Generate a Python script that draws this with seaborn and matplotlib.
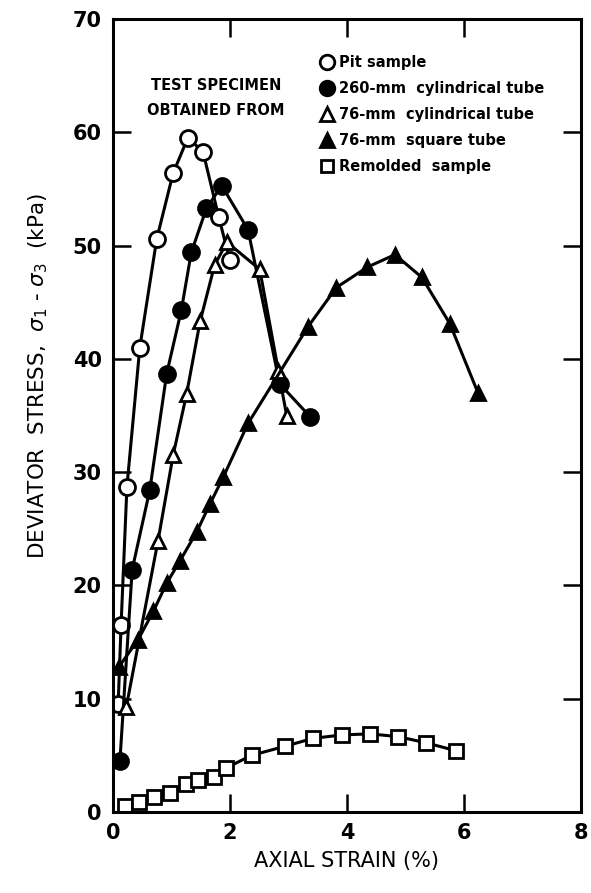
import seaborn as sns
import matplotlib.pyplot as plt
from matplotlib.lines import Line2D
import pandas as pd

# 읽어낸 값 (axial strain %, deviator stress kPa)
pit_x = [0.09, 0.14, 0.24, 0.46, 0.75, 1.03, 1.28, 1.54, 1.81, 2.0]
pit_y = [9.5, 16.5, 28.7, 41.0, 50.6, 56.4, 59.5, 58.3, 52.5, 48.7]

cyl260_x = [0.12, 0.33, 0.63, 0.92, 1.17, 1.34, 1.60, 1.86, 2.31, 2.85, 3.37]
cyl260_y = [4.5, 21.4, 28.4, 38.7, 44.3, 49.4, 53.3, 55.3, 51.4, 37.8, 34.9]

cyl76_x = [0.23, 0.77, 1.03, 1.26, 1.49, 1.74, 1.95, 2.51, 2.83, 2.97]
cyl76_y = [9.3, 23.9, 31.5, 36.9, 43.3, 48.3, 50.3, 47.9, 38.9, 35.0]

sq76_x = [0.10, 0.43, 0.69, 0.92, 1.15, 1.43, 1.66, 1.89, 2.31, 3.33,
          3.82, 4.35, 4.82, 5.28, 5.76, 6.24]
sq76_y = [12.8, 15.2, 17.7, 20.2, 22.2, 24.7, 27.2, 29.6, 34.3, 42.8,
          46.3, 48.1, 49.2, 47.2, 43.1, 37.0]

remold_x = [0.20, 0.45, 0.70, 0.97, 1.25, 1.46, 1.73, 1.94, 2.37, 2.94,
            3.42, 3.91, 4.39, 4.88, 5.36, 5.87]
remold_y = [0.5, 0.9, 1.3, 1.65, 2.5, 2.8, 3.1, 3.9, 5.0, 5.8,
            6.5, 6.8, 6.9, 6.65, 6.1, 5.4]

labels = ['Pit sample', '260-mm  cylindrical tube', '76-mm  cylindrical tube',
          '76-mm  square tube', 'Remolded  sample']

sns.set_style('ticks')
plt.rcParams['font.family'] = ['DejaVu Sans']
plt.rcParams['text.color'] = 'black'
plt.rcParams['axes.labelcolor'] = 'black'
plt.rcParams['xtick.color'] = 'black'
plt.rcParams['ytick.color'] = 'black'
plt.rcParams['axes.edgecolor'] = 'black'

fig = plt.figure(figsize=(5.91, 8.93), dpi=100)
ax = fig.add_axes([0.191, 0.0907, 0.792, 0.888])

series = [
    (pit_x, pit_y, 'o', 'white', 11.5),
    (cyl260_x, cyl260_y, 'o', 'black', 11.5),
    (cyl76_x, cyl76_y, '^', 'white', 10.5),
    (sq76_x, sq76_y, '^', 'black', 10.5),
    (remold_x, remold_y, 's', 'white', 9.5),
]

handles = []
for (xs, ys, mk, fc, ms), lab in zip(series, labels):
    df = pd.DataFrame({'x': xs, 'y': ys})
    sns.lineplot(data=df, x='x', y='y', ax=ax, sort=False, estimator=None,
                 color='black', linewidth=2.2, marker=mk, markersize=ms,
                 markerfacecolor=fc, markeredgecolor='black',
                 markeredgewidth=2)
    handles.append(Line2D([], [], linestyle='none', marker=mk, markersize=ms - 1,
                          markerfacecolor=fc, markeredgecolor='black',
                          markeredgewidth=2, label=lab))

ax.set_xlim(0, 8)
ax.set_ylim(0, 70)
ax.set_xticks([0, 2, 4, 6, 8])
ax.set_yticks(range(0, 71, 10))
ax.tick_params(direction='in', length=13, width=1.8, top=True, right=True,
               labelsize=15, pad=8)
for lab in ax.get_xticklabels() + ax.get_yticklabels():
    lab.set_fontweight('bold')
for s in ax.spines.values():
    s.set_linewidth(2.2)

ax.set_xlabel('AXIAL STRAIN (%)', fontsize=15, labelpad=6)
ax.set_ylabel(r'DEVIATOR  STRESS,  $\sigma_1$ - $\sigma_3$  (kPa)', fontsize=15.5)
ax.yaxis.set_label_coords(-0.135, 0.55)

ax.text(1.76, 64.1, 'TEST SPECIMEN', ha='center', va='center', fontsize=10.5,
        fontweight='bold')
ax.text(1.76, 61.9, 'OBTAINED FROM', ha='center', va='center', fontsize=10.5,
        fontweight='bold')

leg = ax.legend(handles=handles, loc='upper left', bbox_to_anchor=(0.43, 0.962),
                frameon=False, fontsize=10.5, handletextpad=0.3,
                labelspacing=0.75, borderaxespad=0, handlelength=1.0)
for t in leg.get_texts():
    t.set_fontweight('bold')

fig.savefig('out.png', dpi=100)
